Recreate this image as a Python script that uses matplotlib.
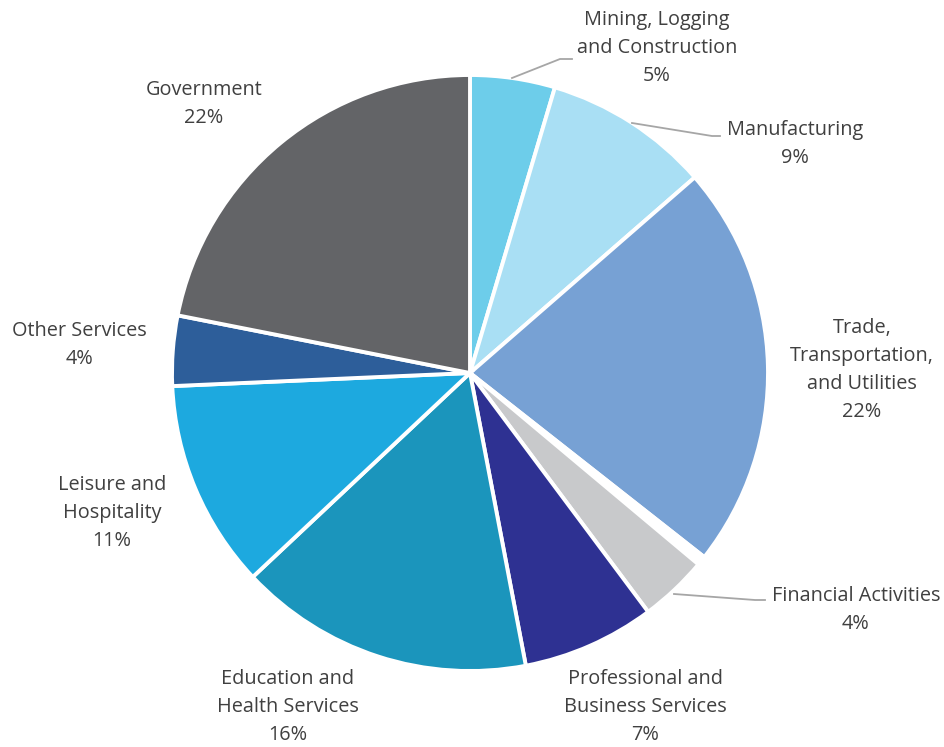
import matplotlib
matplotlib.use("Agg")
import matplotlib.pyplot as plt

W, H = 945, 747

sectors = ["Mining, Logging\nand Construction", "Manufacturing",
           "Trade,\nTransportation,\nand Utilities", "Information",
           "Financial Activities", "Professional and\nBusiness Services",
           "Education and\nHealth Services", "Leisure and\nHospitality",
           "Other Services", "Government"]
shares = [4.6, 9.0, 22.0, 0.5, 3.7, 7.2, 16.0, 11.3, 3.8, 21.9]
colors = ["#6DCDEA", "#A9DFF4", "#77A1D4", "#FFFFFF", "#C8C9CB",
          "#2E3192", "#1B95BC", "#1DA9DF", "#2D5E9A", "#636467"]
# label centre (px from top-left); None = no label
label_pos = [(657, 48), (795, 144), (862, 370), None, (856, 610),
             (645, 707), (288, 707), (112, 513), (79, 345), (204, 104)]
# leader lines for the outside labels
leaders = [[(512, 78), (560, 59), (572, 59)],
           [(632, 123), (712, 136), (720, 136)],
           [(674, 594), (755, 600), (765, 600)]]

plt.rcParams["font.family"] = ["Open Sans", "DejaVu Sans"]

fig = plt.figure(figsize=(W / 100, H / 100), dpi=100)
ax = fig.add_axes([0, 0, 1, 1])

ax.pie(shares, colors=colors, startangle=90, counterclock=False,
       center=(470, H - 373), radius=298,
       wedgeprops=dict(edgecolor="white", linewidth=2.8))

for name, val, pos in zip(sectors, shares, label_pos):
    if pos is None:
        continue
    ax.text(pos[0], H - pos[1], f"{name}\n{val:.0f}%", ha="center", va="center",
            fontsize=14.3, color="#404040", linespacing=1.53)

for pts in leaders:
    xs = [p[0] for p in pts]
    ys = [H - p[1] for p in pts]
    ax.plot(xs, ys, color="#A6A6A6", lw=1.3)

ax.set_xlim(0, W)
ax.set_ylim(0, H)
ax.axis("off")
fig.savefig("out.png", dpi=100)
